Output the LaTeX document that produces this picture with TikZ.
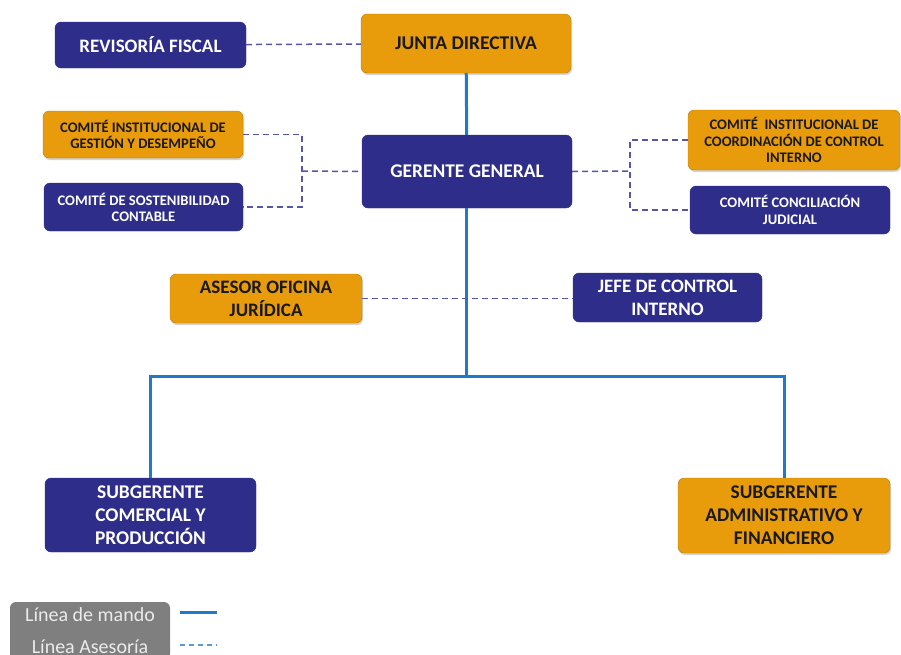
\documentclass[tikz,border=0pt]{standalone}
\usepackage{fontspec}
\setmainfont{Carlito}
\usepackage{tikz}
\usetikzlibrary{calc,shapes,positioning,shadows}
\definecolor{navy}{HTML}{2E2E8A}
\definecolor{naranja}{HTML}{E89C0C}
\definecolor{azul}{HTML}{1F7BC9}
\definecolor{lila}{HTML}{5656A8}
\definecolor{celeste}{HTML}{5B9BD5}
\definecolor{gris}{HTML}{7F7F7F}

\begin{document}
\begin{tikzpicture}[x=1pt, y=-1pt]

    \tikzstyle{onode} = [rectangle, rounded corners = 6pt, fill=naranja, draw=naranja!80!black, thin, align=center,
      text=black!90, font=\bfseries, inner sep = 2pt, drop shadow={shadow xshift=1pt, shadow yshift=-2pt, opacity=0.35}]
    \tikzstyle{bnode} = [rectangle, rounded corners = 6pt, fill=navy, draw=navy, align=center,
      text=white, font=\bfseries, inner sep = 2pt]
    \tikzstyle{mando} = [azul, line width=3pt]
    \tikzstyle{asesoria} = [lila, line width=1.5pt, dash pattern=on 6pt off 4pt]

    \clip (0,0) rectangle (901,654);

    % dirección
    \node[onode, minimum width=210pt, minimum height=59pt, font=\bfseries\fontsize{19.5}{22}\selectfont] (junta) at (466,43.5) {JUNTA DIRECTIVA};
    \node[bnode, minimum width=191pt, minimum height=46pt, font=\bfseries\fontsize{19}{22}\selectfont] (fiscal) at (150.5,45) {REVISORÍA FISCAL};
    \node[bnode, minimum width=210pt, minimum height=73pt, font=\bfseries\fontsize{19.4}{22}\selectfont] (gerente) at (467,171.5) {GERENTE GENERAL};

    % comités
    \node[onode, minimum width=200pt, minimum height=47pt, font=\bfseries\fontsize{14.6}{16}\selectfont] (gestion) at (143,134.5) {COMITÉ INSTITUCIONAL DE\\GESTIÓN Y DESEMPEÑO};
    \node[bnode, minimum width=199pt, minimum height=48pt, font=\bfseries\fontsize{14.6}{16}\selectfont] (sosten) at (143.5,207) {COMITÉ DE SOSTENIBILIDAD\\CONTABLE};
    \node[onode, minimum width=212pt, minimum height=60pt, font=\bfseries\fontsize{14.6}{16.5}\selectfont] (coord) at (794,140) {COMITÉ \ INSTITUCIONAL DE\\COORDINACIÓN DE CONTROL\\INTERNO};
    \node[bnode, minimum width=200pt, minimum height=48pt, font=\bfseries\fontsize{14.6}{16.5}\selectfont] (concil) at (790,210) {COMITÉ CONCILIACIÓN\\JUDICIAL};

    % asesores
    \node[onode, minimum width=192pt, minimum height=49pt, font=\bfseries\fontsize{19}{23}\selectfont] (juridica) at (266,298.5) {ASESOR OFICINA\\JURÍDICA};
    \node[bnode, minimum width=189pt, minimum height=49pt, font=\bfseries\fontsize{19}{23}\selectfont] (control) at (667.5,297.5) {JEFE DE CONTROL\\INTERNO};

    % subgerencias
    \node[bnode, minimum width=211pt, minimum height=74pt, font=\bfseries\fontsize{19.4}{23}\selectfont] (comercial) at (150.5,515) {SUBGERENTE\\COMERCIAL Y\\PRODUCCIÓN};
    \node[onode, minimum width=212pt, minimum height=75pt, font=\bfseries\fontsize{19.4}{23}\selectfont] (admin) at (784,515.5) {SUBGERENTE\\ADMINISTRATIVO Y\\FINANCIERO};

    \coordinate (hub) at (466,376);
    \coordinate (lj) at (302,171);
    \coordinate (rj) at (630,171);

    % línea de mando
    \draw[mando] (junta) -- (gerente);
    \draw[mando] (gerente.south -| hub) -- (hub);
    \draw[mando] (comercial.north -| 150,0) |- (hub) -| (admin.north);

    % línea asesoría
    \draw[asesoria] (fiscal) -- (junta);
    \draw[asesoria] (gestion.east) -| (lj) |- (sosten.east);
    \draw[asesoria] (lj) -- (gerente.west);
    \draw[asesoria] (gerente.east) -- (rj);
    \draw[asesoria] (coord.west) -| (rj) |- (concil.west);
    \draw[asesoria] (juridica.east) -- (juridica.east -| control.west);

    % leyenda
    \node[rectangle, rounded corners = 6pt, fill=gris, text=white!92!black, align=center, minimum width=160pt,
      minimum height=58pt, font=\fontsize{20}{32}\selectfont] (leyenda) at (90,631) {Línea de mando\\Línea Asesoría};
    \draw[mando] (180,612) -- (217,612);
    \draw[celeste, line width=1.4pt, dash pattern=on 5pt off 4pt] (180,645) -- (217,645);

\end{tikzpicture}
\end{document}
